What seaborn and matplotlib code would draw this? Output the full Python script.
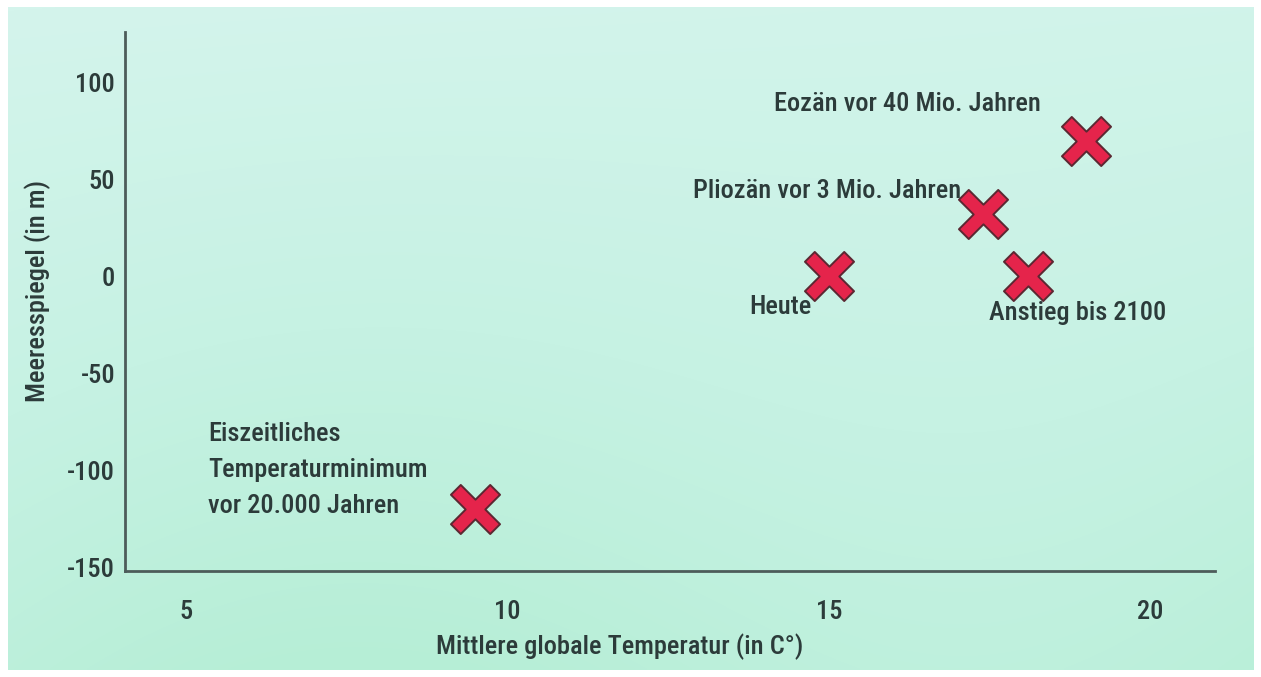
import matplotlib
matplotlib.use("Agg")
import matplotlib.pyplot as plt
from matplotlib import font_manager
from matplotlib.colors import LinearSegmentedColormap
from matplotlib.path import Path
import seaborn as sns
import numpy as np
import pandas as pd

# --- Daten ---
labels = [
    "Eozän vor 40 Mio. Jahren",
    "Pliozän vor 3 Mio. Jahren",
    "Heute",
    "Anstieg bis 2100",
    "Eiszeitliches\nTemperaturminimum\nvor 20.000 Jahren",
]
temperatur = [19.0, 17.4, 15.0, 18.1, 9.5]
meeresspiegel = [70, 32, 0, 0, -120]

x_ticks = [5, 10, 15, 20]
y_ticks = [100, 50, 0, -50, -100, -150]

df = pd.DataFrame({"Temperatur": temperatur, "Meeresspiegel": meeresspiegel, "Label": labels})

sns.set_theme(style="white")

# schmale Schrift wählen, falls vorhanden
installed = {f.name for f in font_manager.fontManager.ttflist}
family = "DejaVu Sans"
for cand in ["Liberation Sans Narrow", "Roboto Condensed", "Open Sans Condensed", "Roboto", "Lato"]:
    if cand in installed:
        family = cand
        break
plt.rcParams["font.family"] = [family, "DejaVu Sans"]
plt.rcParams["font.weight"] = "medium"
plt.rcParams["axes.labelweight"] = "medium"
plt.rcParams["axes.unicode_minus"] = False
text_color = "#2c3b3a"

fig = plt.figure(figsize=(12.61, 6.77), dpi=100)
fig.patch.set_facecolor("white")

# Schriftgröße so wählen, dass die Textbreite zur Vorlage passt
probe = fig.text(0, 0, labels[0], fontsize=20)
w = probe.get_window_extent(renderer=fig.canvas.get_renderer()).width
probe.remove()
fs = min(20, 20 * 266 / w)

# Hintergrund (mintgrüner Verlauf)
bg = fig.add_axes([0.006, 0.01, 0.988, 0.98], zorder=0)
yy, xx = np.mgrid[0:1:200j, 0:1:400j]
field = 0.6 * yy + 0.12 * np.sin(xx * 6.0) * yy + 0.08 * xx
cmap = LinearSegmentedColormap.from_list("mint", ["#d4f4ec", "#c6f2e3", "#b6eed6"])
bg.imshow(field, cmap=cmap, aspect="auto", origin="upper", interpolation="bilinear")
bg.axis("off")

ax = fig.add_axes([0.0991, 0.1566, 0.8644, 0.796], zorder=1)
ax.patch.set_alpha(0)

# schräges Kreuz als Marker
a = 0.40
verts = [(-1 + a, 1), (0, a), (1 - a, 1), (1, 1 - a), (a, 0), (1, -1 + a), (1 - a, -1),
         (0, -a), (-1 + a, -1), (-1, -1 + a), (-a, 0), (-1, 1 - a), (-1 + a, 1)]
cross = Path(verts, closed=True)

sns.scatterplot(
    data=df, x="Temperatur", y="Meeresspiegel", marker=cross, s=1250,
    color="#e5244b", edgecolor="#5b2832", linewidth=1.4, ax=ax, zorder=5, legend=False,
)

# Beschriftungen
offsets = {
    labels[0]: (-0.7, 19, "right"),
    labels[1]: (-0.35, 12, "right"),
    labels[2]: (-0.27, -16, "right"),
    labels[3]: (-0.62, -19, "left"),
    labels[4]: (-4.16, 20, "left"),
}
for t, m, lab in zip(temperatur, meeresspiegel, labels):
    dx, dy, ha = offsets[lab]
    ax.text(t + dx, m + dy, lab, ha=ha, va="center", fontsize=fs, color=text_color,
            linespacing=1.62, zorder=6)

ax.set_xlim(4.05, 21.0)
ax.set_ylim(-152, 126)
ax.set_xticks(x_ticks)
ax.set_yticks(y_ticks)
ax.tick_params(axis="both", length=0, labelsize=fs, colors=text_color)
ax.tick_params(axis="x", pad=21)
ax.tick_params(axis="y", pad=7)

for side in ["top", "right"]:
    ax.spines[side].set_visible(False)
for side in ["left", "bottom"]:
    ax.spines[side].set_color("#4d5c5a")
    ax.spines[side].set_linewidth(2)

ax.set_xlabel("Mittlere globale Temperatur (in C°)", fontsize=fs, color=text_color, fontweight="medium")
ax.set_ylabel("Meeresspiegel (in m)", fontsize=fs, color=text_color, fontweight="medium")
ax.xaxis.set_label_coords(0.454, -0.115)
ax.yaxis.set_label_coords(-0.068, 0.52)

fig.savefig("out.png", dpi=100)
